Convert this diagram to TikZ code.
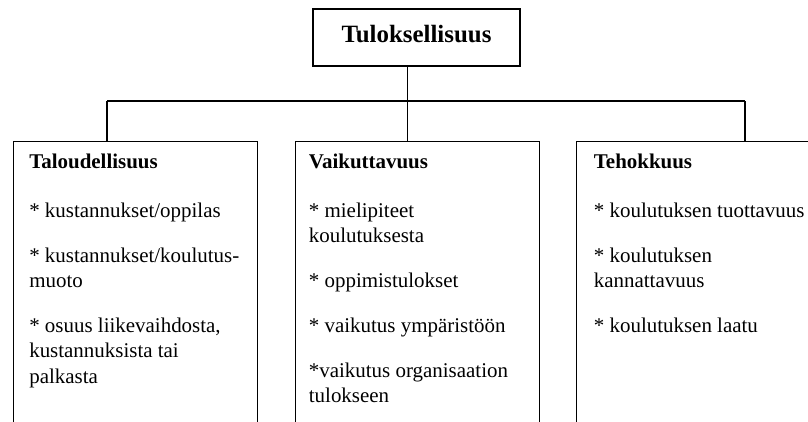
\documentclass[tikz,border=0pt]{standalone}
\usepackage{fontspec}
\setmainfont{Liberation Serif}
\usepackage{tikz}
\usetikzlibrary{positioning}
\tikzset{
	laatikko/.style = {draw, line width=1pt, minimum width=6.1cm, minimum height=8cm, anchor=north west, inner sep=0pt},
	teksti/.style = {align=left, inner sep=0pt, font=\fontsize{14.9}{18.1}\selectfont},
	yhteys/.style = {line width=1pt}
}
\begin{document}
\begin{tikzpicture}
	
	\useasboundingbox (0,0) rectangle (20.2,-10.525);
	\clip (0,0) rectangle (20.2,-10.525);
	\node [draw, line width=1pt, minimum width=5.175cm, minimum height=1.425cm, text depth=0.2cm, font=\fontsize{17.7}{21}\selectfont\bfseries] (tulos) at (10.4125,-0.9375) {Tuloksellisuus};
	
	\node [laatikko] (talous) at (0.325,-3.525) {};
	\node [laatikko] (vaik) at (7.375,-3.525) {};
	\node [laatikko] (teho) at (14.4,-3.525) {};
	
	%haarat
	\coordinate (bus keski) at (10.19,-2.525);
	\coordinate (bus vasen) at (2.675,-2.525);
	\coordinate (bus oikea) at (18.625,-2.525);
	\draw [yhteys] (tulos.south -| bus keski) -- (bus keski);
	\draw [yhteys] (bus vasen) -- (bus oikea);
	\draw [yhteys] (bus vasen) -- (bus vasen |- talous.north);
	\draw [yhteys] (bus keski) -- (bus keski |- vaik.north);
	\draw [yhteys] (bus oikea) -- (bus oikea |- teho.north);
	
	\node [teksti, below right=0.315cm and 0.4cm of talous.north west] (talous teksti) {\textbf{Taloudellisuus}\\[16.6pt]* kustannukset/oppilas\\[13.8pt]* kustannukset/koulutus-\\muoto\\[13.8pt]* osuus liikevaihdosta,\\kustannuksista tai\\palkasta};
	\node [teksti, below right=0.315cm and 0.34cm of vaik.north west] (vaik teksti) {\textbf{Vaikuttavuus}\\[16.6pt]* mielipiteet\\koulutuksesta\\[13.8pt]* oppimistulokset\\[13.8pt]* vaikutus ympäristöön\\[13.8pt]*vaikutus organisaation\\tulokseen};
	\node [teksti, below right=0.315cm and 0.44cm of teho.north west] (teho teksti) {\textbf{Tehokkuus}\\[16.6pt]* koulutuksen tuottavuus\\[13.8pt]* koulutuksen\\kannattavuus\\[13.8pt]* koulutuksen laatu};
\end{tikzpicture}
\end{document}
